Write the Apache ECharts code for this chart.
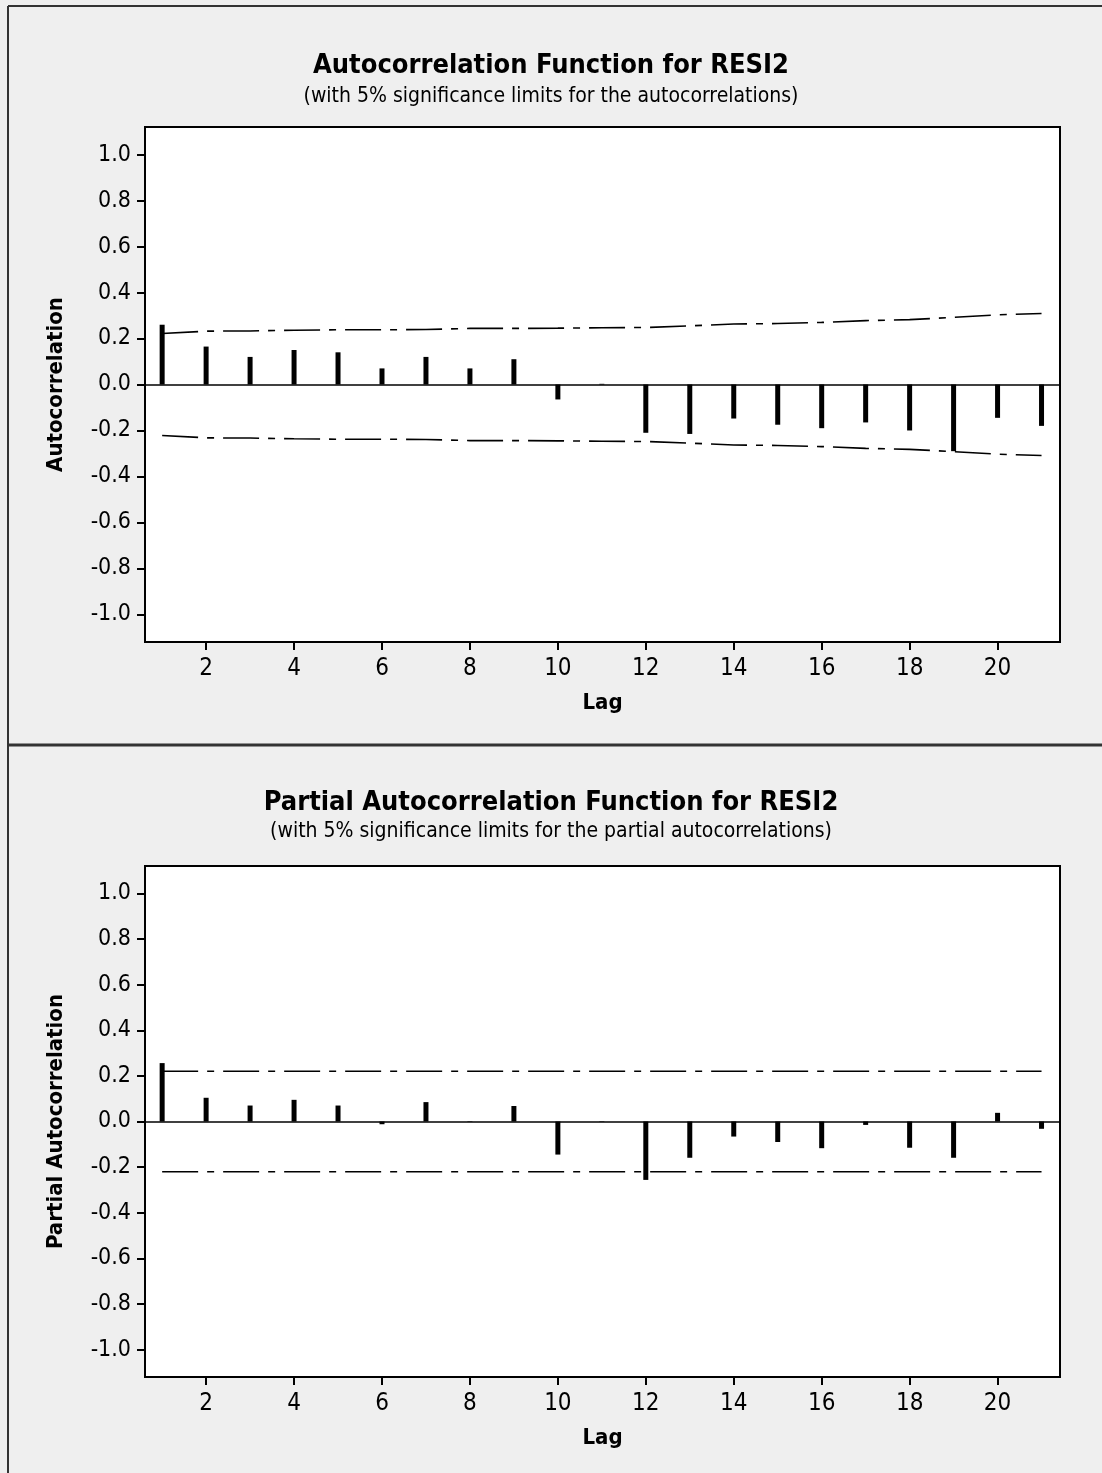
<!DOCTYPE html>
<html>
<head>
<meta charset="utf-8">
<title>ACF / PACF for RESI2</title>
<script src="https://cdn.jsdelivr.net/npm/echarts@6/dist/echarts.min.js"></script>
<style>
  html, body { margin: 0; padding: 0; background: #efefef; }
  #chart { width: 1102px; height: 1473px; }
</style>
</head>
<body>
<div id="chart"></div>
<script>
// lags 1..21
const lags = [1, 2, 3, 4, 5, 6, 7, 8, 9, 10, 11, 12, 13, 14, 15, 16, 17, 18, 19, 20, 21]

// autocorrelations
const acfValues = [0.26, 0.165, 0.12, 0.15, 0.14, 0.07, 0.12, 0.07, 0.11, -0.065, 0.003,
  -0.21, -0.215, -0.148, -0.175, -0.19, -0.165, -0.2, -0.29, -0.145, -0.18]
// upper 5% limit for the ACF (lower one is its mirror)
const acfLimit = [0.222, 0.232, 0.233, 0.236, 0.238, 0.238, 0.239, 0.244, 0.244, 0.245, 0.247,
  0.248, 0.255, 0.263, 0.265, 0.27, 0.278, 0.282, 0.292, 0.303, 0.309]

// partial autocorrelations
const pacfValues = [0.256, 0.104, 0.07, 0.095, 0.07, -0.012, 0.085, 0.002, 0.068, -0.145, 0.002,
  -0.256, -0.159, -0.066, -0.09, -0.117, -0.015, -0.115, -0.159, 0.038, -0.032]
const pacfLimit = [0.22, 0.22, 0.22, 0.22, 0.22, 0.22, 0.22, 0.22, 0.22, 0.22, 0.22,
  0.22, 0.22, 0.22, 0.22, 0.22, 0.22, 0.22, 0.22, 0.22, 0.22]

const lagTicks = [2, 4, 6, 8, 10, 12, 14, 16, 18, 20]
const corrTicks = [-1.0, -0.8, -0.6, -0.4, -0.2, 0.0, 0.2, 0.4, 0.6, 0.8, 1.0]

const FONT = '"DejaVu Sans Condensed", "DejaVu Sans", sans-serif'
const dashDot = [36, 9, 7, 9]

const pairs = (vals) => lags.map((l, i) => [l, vals[i]])

const makeX = (gridIndex) => ({
  type: 'value',
  gridIndex,
  min: 0.61,
  max: 21.42,
  name: 'Lag',
  nameLocation: 'middle',
  nameGap: 50,
  nameTextStyle: { fontFamily: FONT, fontSize: 22, fontWeight: 'bold', color: '#000' },
  axisLine: { onZero: false, lineStyle: { color: '#000', width: 2 } },
  axisTick: { show: true, inside: false, length: 8, customValues: lagTicks, lineStyle: { color: '#000', width: 2 } },
  axisLabel: { customValues: lagTicks, margin: 15, fontFamily: FONT, fontSize: 24, color: '#000' },
  splitLine: { show: false }
})

const makeY = (gridIndex, name) => ({
  type: 'value',
  gridIndex,
  min: -1.12,
  max: 1.12,
  name,
  nameLocation: 'middle',
  nameGap: 78,
  nameTextStyle: { fontFamily: FONT, fontSize: 22, fontWeight: 'bold', color: '#000' },
  axisLine: { show: true, onZero: false, lineStyle: { color: '#000', width: 2 } },
  axisTick: { show: true, length: 8, customValues: corrTicks, lineStyle: { color: '#000', width: 2 } },
  axisLabel: {
    customValues: corrTicks,
    margin: 14,
    fontFamily: FONT,
    fontSize: 23,
    color: '#000',
    formatter: (v) => v.toFixed(1)
  },
  splitLine: { show: false }
})

const barSeries = (idx, vals) => ({
  type: 'bar',
  xAxisIndex: idx,
  yAxisIndex: idx,
  barWidth: 5,
  itemStyle: { color: '#000' },
  data: pairs(vals),
  markLine: {
    silent: true,
    symbol: 'none',
    label: { show: false },
    lineStyle: { color: '#000', width: 1.5, type: 'solid' },
    data: [{ yAxis: 0 }]
  }
})

const limitSeries = (idx, vals, sign) => ({
  type: 'line',
  xAxisIndex: idx,
  yAxisIndex: idx,
  symbol: 'none',
  silent: true,
  lineStyle: { color: '#000', width: 1.6, type: dashDot },
  data: pairs(vals.map(v => sign * v))
})

const chart = echarts.init(document.getElementById('chart'))

chart.setOption({
  backgroundColor: '#efefef',
  animation: false,
  title: [
    {
      text: 'Autocorrelation Function for RESI2',
      subtext: '(with 5% significance limits for the autocorrelations)',
      left: 'center',
      top: 47,
      itemGap: 7,
      textStyle: { fontFamily: FONT, fontSize: 27, fontWeight: 'bold', color: '#000' },
      subtextStyle: { fontFamily: FONT, fontSize: 21, color: '#000' }
    },
    {
      text: 'Partial Autocorrelation Function for RESI2',
      subtext: '(with 5% significance limits for the partial autocorrelations)',
      left: 'center',
      top: 784,
      itemGap: 5,
      textStyle: { fontFamily: FONT, fontSize: 27, fontWeight: 'bold', color: '#000' },
      subtextStyle: { fontFamily: FONT, fontSize: 21, color: '#000' }
    }
  ],
  grid: [
    { left: 145, top: 127, width: 915, height: 515, show: true, backgroundColor: '#fff', borderColor: '#000', borderWidth: 2 },
    { left: 145, top: 866, width: 915, height: 511, show: true, backgroundColor: '#fff', borderColor: '#000', borderWidth: 2 }
  ],
  xAxis: [makeX(0), makeX(1)],
  yAxis: [makeY(0, 'Autocorrelation'), makeY(1, 'Partial Autocorrelation')],
  series: [
    barSeries(0, acfValues),
    limitSeries(0, acfLimit, 1),
    limitSeries(0, acfLimit, -1),
    barSeries(1, pacfValues),
    limitSeries(1, pacfLimit, 1),
    limitSeries(1, pacfLimit, -1)
  ],
  graphic: [
    // outer frame of the scanned page and the divider between the two plots
    { type: 'line', shape: { x1: 8, y1: 6, x2: 1102, y2: 6 }, style: { stroke: '#333', lineWidth: 2 } },
    { type: 'line', shape: { x1: 8, y1: 6, x2: 8, y2: 1473 }, style: { stroke: '#333', lineWidth: 2 } },
    { type: 'line', shape: { x1: 8, y1: 745, x2: 1102, y2: 745 }, style: { stroke: '#333', lineWidth: 3 } }
  ]
})

window.addEventListener('resize', () => chart.resize())
</script>
</body>
</html>
